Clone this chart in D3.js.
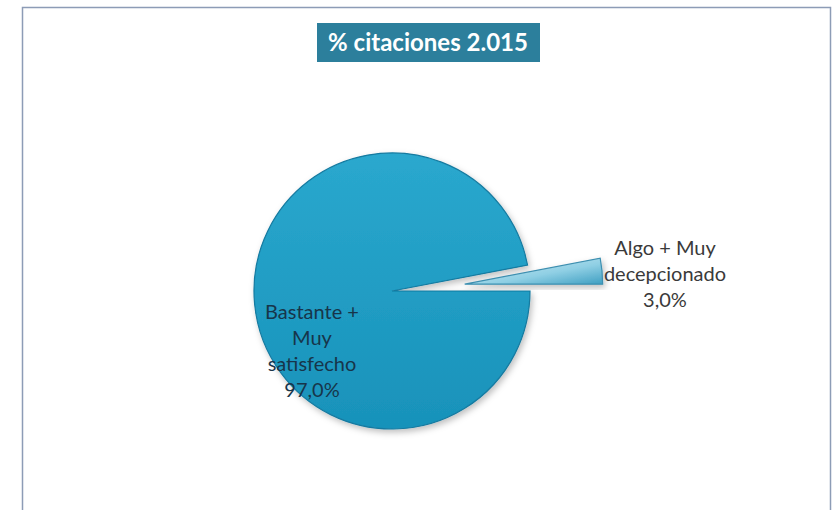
<!DOCTYPE html>
<html>
<head>
<meta charset="utf-8">
<script src="https://cdn.jsdelivr.net/npm/d3@7"></script>
<style>
  body { margin: 0; background: #fff; }
  svg { display: block; }
</style>
</head>
<body>
<div id="chart"></div>
<script>
// Data
const categories = ["Bastante + Muy satisfecho", "Algo + Muy decepcionado"];
const values = [97.0, 3.0];
const labelLines = [["Bastante +", "Muy", "satisfecho", "97,0%"], ["Algo + Muy", "decepcionado", "3,0%"]];
const title = "% citaciones 2.015";

// SVG constants
const width = 832, height = 510;
const cx = 392, cy = 291, radius = 138;
const explode = [0, 73];

const svg = d3.select("#chart")
  .append("svg")
  .attr("width", width)
  .attr("height", height);

const defs = svg.append("defs");

// gradients for the bevel look
const gBig = defs.append("linearGradient")
  .attr("id", "gBig").attr("x1", "0%").attr("y1", "0%").attr("x2", "0%").attr("y2", "100%");
gBig.append("stop").attr("offset", "0%").attr("stop-color", "#2aa8ce");
gBig.append("stop").attr("offset", "100%").attr("stop-color", "#1892ba");

const gSmall = defs.append("linearGradient")
  .attr("id", "gSmall").attr("x1", "0%").attr("y1", "0%").attr("x2", "100%").attr("y2", "100%");
gSmall.append("stop").attr("offset", "0%").attr("stop-color", "#d6eff7");
gSmall.append("stop").attr("offset", "60%").attr("stop-color", "#8fcfe4");
gSmall.append("stop").attr("offset", "100%").attr("stop-color", "#3f9fc2");

const shadow = defs.append("filter").attr("id", "shadow")
  .attr("x", "-10%").attr("y", "-10%").attr("width", "130%").attr("height", "130%");
shadow.append("feDropShadow")
  .attr("dx", 2).attr("dy", 3).attr("stdDeviation", 3)
  .attr("flood-color", "#000").attr("flood-opacity", 0.25);

// chart frame
svg.append("rect")
  .attr("x", 22.5).attr("y", 7.5)
  .attr("width", 808).attr("height", 520)
  .attr("fill", "none")
  .attr("stroke", "#8d9cb6")
  .attr("stroke-width", 1.5);

// title box
const titleG = svg.append("g");
titleG.append("rect")
  .attr("x", 317).attr("y", 23)
  .attr("width", 223).attr("height", 39)
  .attr("fill", "#2c7f9c");
titleG.append("text")
  .attr("x", 428).attr("y", 51)
  .attr("text-anchor", "middle")
  .attr("fill", "#fff")
  .style("font", "bold 24px Lato, 'Open Sans', sans-serif")
  .text(title);

// pie
const pie = d3.pie().sort(null).startAngle(Math.PI / 2).endAngle(Math.PI / 2 + 2 * Math.PI);
const arcs = pie(values);
const arc = d3.arc().innerRadius(0).outerRadius(radius);
const fills = ["url(#gBig)", "url(#gSmall)"];
const strokes = ["#137aa0", "#3d8fb0"];

const slices = svg.append("g")
  .attr("transform", `translate(${cx},${cy})`)
  .selectAll("path")
  .data(arcs)
  .join("path")
  .attr("transform", (d, i) => {
    const a = (d.startAngle + d.endAngle) / 2;
    return `translate(${Math.sin(a) * explode[i]},${-Math.cos(a) * explode[i]})`;
  })
  .attr("d", arc)
  .attr("fill", (d, i) => fills[i])
  .attr("stroke", (d, i) => strokes[i])
  .attr("stroke-width", 1.2)
  .attr("filter", "url(#shadow)");

// labels
const labelPos = [[312, 319], [665, 255]];
const labelColor = ["#17354a", "#3a3a3a"];
arcs.forEach((d, i) => {
  const t = svg.append("text")
    .attr("text-anchor", "middle")
    .attr("fill", labelColor[i])
    .style("font", "20px Lato, 'Open Sans', sans-serif");
  labelLines[i].forEach((line, j) => {
    t.append("tspan")
      .attr("x", labelPos[i][0])
      .attr("y", labelPos[i][1] + j * 26)
      .text(line);
  });
});
</script>
</body>
</html>
